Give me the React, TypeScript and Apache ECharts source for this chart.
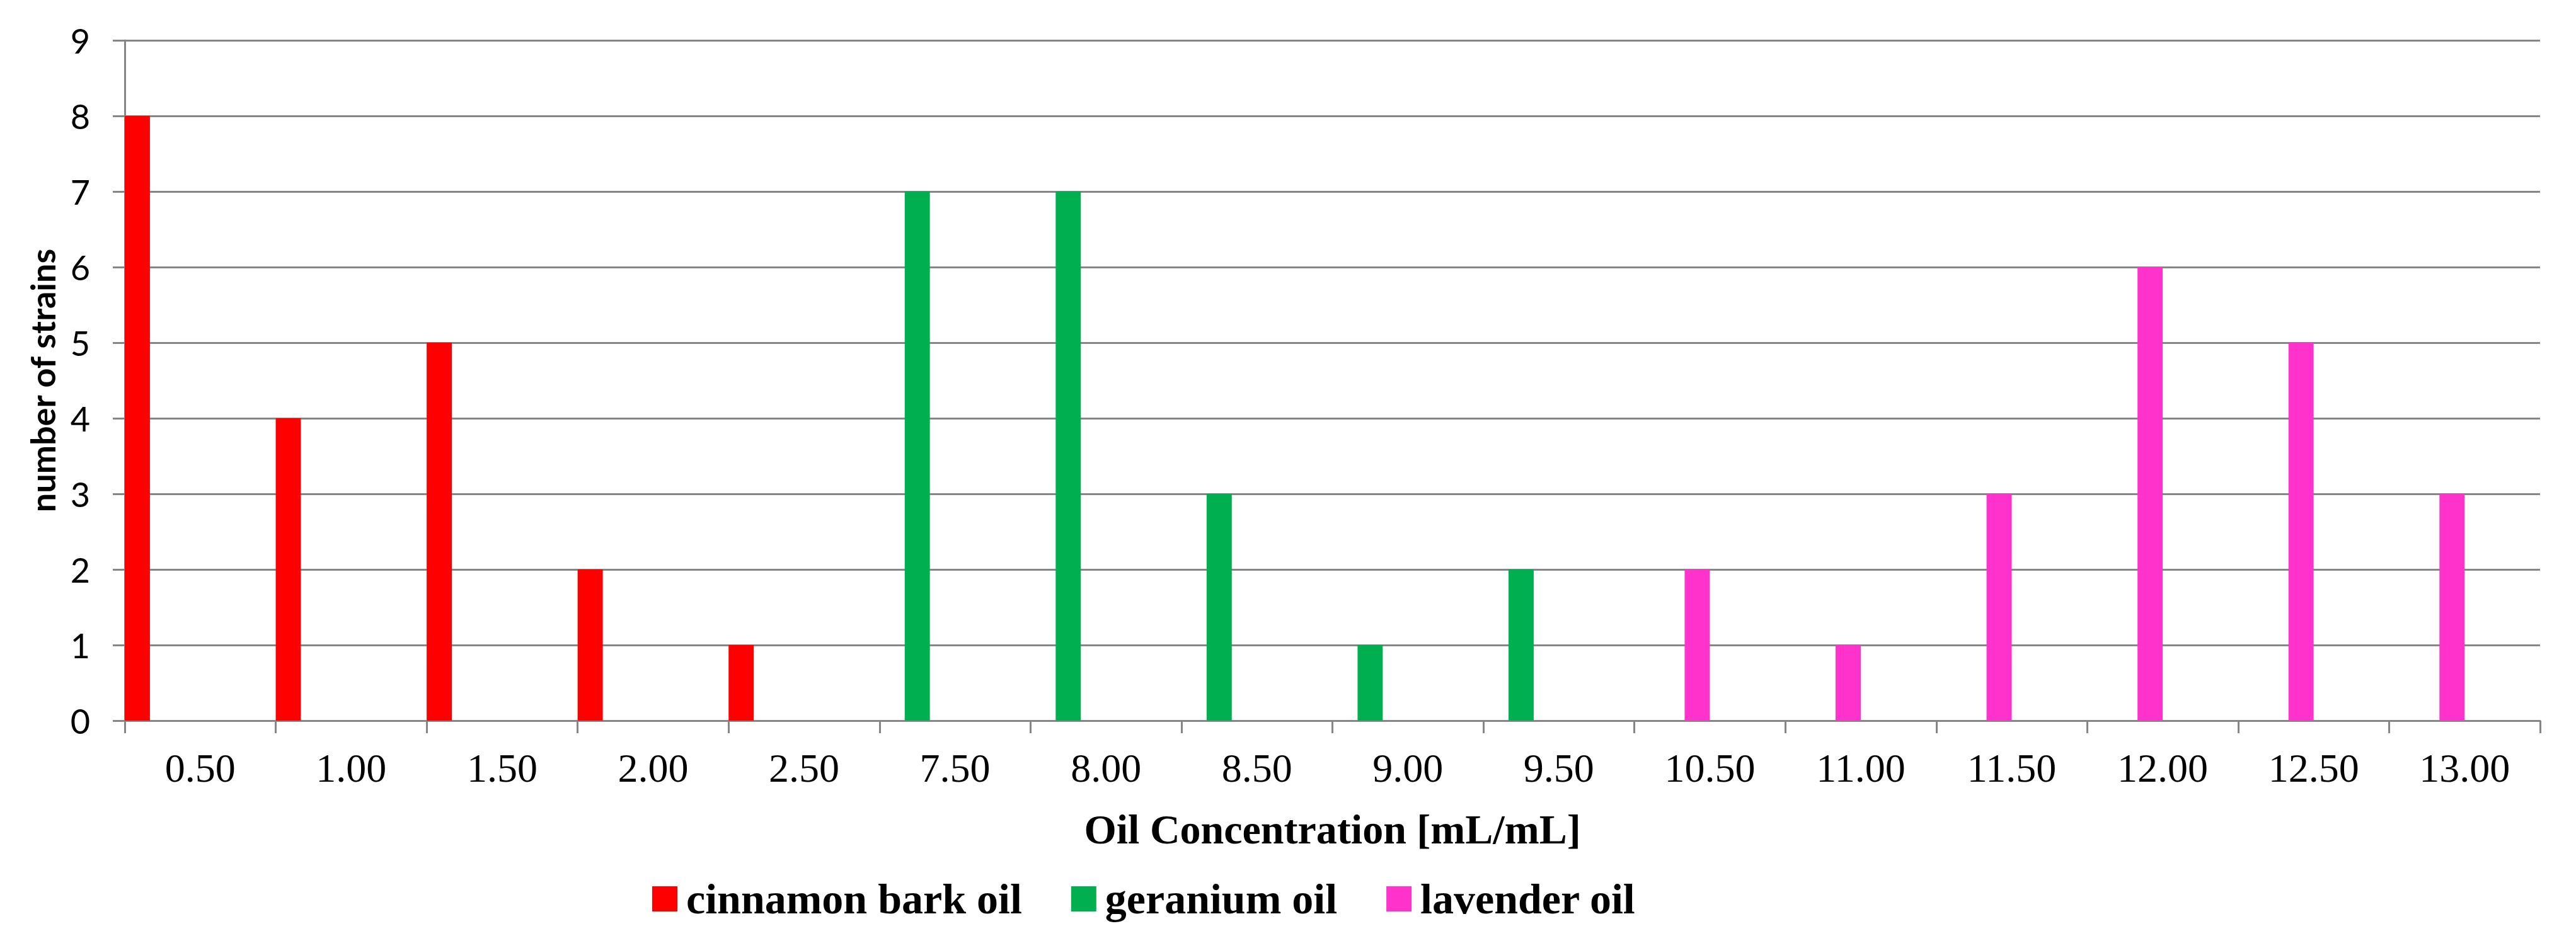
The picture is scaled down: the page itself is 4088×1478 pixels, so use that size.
import React, { useEffect, useRef } from "react";
import * as echarts from "echarts";

const categories = ["0.50", "1.00", "1.50", "2.00", "2.50", "7.50", "8.00", "8.50", "9.00", "9.50", "10.50", "11.00", "11.50", "12.00", "12.50", "13.00"];
const cinnamon = [8, 4, 5, 2, 1, null, null, null, null, null, null, null, null, null, null, null];
const geranium = [null, null, null, null, null, 7, 7, 3, 1, 2, null, null, null, null, null, null];
const lavender = [null, null, null, null, null, null, null, null, null, null, 2, 1, 3, 6, 5, 3];
const seriesNames = ["cinnamon bark oil", "geranium oil", "lavender oil"];
const seriesColors = ["#FF0000", "#00B050", "#FF33CC"];
const padSlots = ["pad1", "pad2", "pad3"];

export default function App() {
  const ref = useRef<HTMLDivElement>(null);
  useEffect(() => {
    if (!ref.current) return;
    const chart = echarts.init(ref.current, null, { renderer: "svg" });
    const values = [cinnamon, geranium, lavender];
    const series: any[] = values.map((d, i) => ({
      name: seriesNames[i],
      type: "bar",
      data: d,
      itemStyle: { color: seriesColors[i] },
      barGap: "0%",
      barCategoryGap: "0%",
    }));
    padSlots.forEach((n) => series.push({ name: n, type: "bar", data: [], barGap: "0%", barCategoryGap: "0%" }));
    chart.setOption({
      animation: false,
      backgroundColor: "#ffffff",
      grid: { left: 198, right: 57, top: 64, bottom: 334, containLabel: false },
      legend: {
        data: seriesNames,
        left: 1035,
        top: 1393,
        padding: 0,
        itemWidth: 40,
        itemHeight: 40,
        itemGap: 78,
        icon: "rect",
        textStyle: { fontFamily: "Liberation Serif", fontWeight: "bold", fontSize: 68, color: "#000", padding: [0, 0, 0, 9] },
      },
      xAxis: {
        type: "category",
        data: categories,
        name: "Oil Concentration [mL/mL]",
        nameLocation: "middle",
        nameGap: 139,
        nameTextStyle: { fontFamily: "Liberation Serif", fontWeight: "bold", fontSize: 66, color: "#000" },
        axisLine: { lineStyle: { color: "#868686", width: 3 } },
        axisTick: { show: true, length: 20, lineStyle: { color: "#868686", width: 3 } },
        axisLabel: { fontFamily: "Liberation Serif", fontSize: 64, color: "#000", margin: 43, interval: 0 },
      },
      yAxis: {
        type: "value",
        min: 0,
        max: 9,
        interval: 1,
        name: "number of strains",
        nameLocation: "middle",
        nameGap: 104,
        nameRotate: 90,
        nameTextStyle: { fontFamily: "Lato", fontWeight: "bold", fontSize: 54, color: "#000" },
        axisLine: { show: true, lineStyle: { color: "#868686", width: 3 } },
        axisTick: { show: true, length: 19, lineStyle: { color: "#868686", width: 3 } },
        axisLabel: { fontFamily: "Lato", fontSize: 54, color: "#000", margin: 55 },
        splitLine: { show: true, lineStyle: { color: "#868686", width: 3 } },
      },
      series,
    });
    return () => chart.dispose();
  }, []);
  return <div ref={ref} style={{ position: "fixed", left: 0, top: 0, width: 4088, height: 1478 }} />;
}
